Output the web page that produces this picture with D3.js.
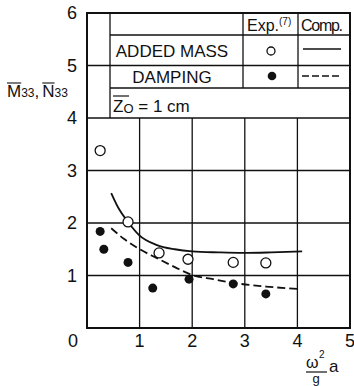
<!DOCTYPE html>
<html>
<head>
<meta charset="utf-8">
<script src="https://cdn.jsdelivr.net/npm/d3@7"></script>
<style>
  body { margin: 0; background: #fff; }
  text { font-family: "Liberation Sans", Arial, sans-serif; fill: #111; }
</style>
</head>
<body>
<svg id="chart"></svg>
<script>
// experiment (ref. 7)
var addedMassX = [0.25, 0.78, 1.37, 1.92, 2.78, 3.40];
var addedMassY = [3.38, 2.02, 1.43, 1.31, 1.25, 1.24];
var dampingX = [0.25, 0.32, 0.78, 1.25, 1.94, 2.78, 3.40];
var dampingY = [1.84, 1.50, 1.25, 0.76, 0.93, 0.84, 0.65];

// computed curves
var compMassX = [0.46, 0.60, 0.78, 0.99, 1.33, 1.67, 2.00, 2.50, 2.97, 3.50, 4.09];
var compMassY = [2.57, 2.28, 2.02, 1.77, 1.58, 1.50, 1.46, 1.44, 1.43, 1.44, 1.46];
var compDampX = [0.46, 0.70, 0.97, 1.33, 1.67, 2.00, 2.40, 2.78, 3.40, 4.07];
var compDampY = [1.90, 1.70, 1.52, 1.33, 1.16, 1.01, 0.93, 0.86, 0.79, 0.74];

var xTicks = [1, 2, 3, 4, 5];
var yTicks = [1, 2, 3, 4, 5, 6];
var legendRows = ["ADDED MASS", "DAMPING"];

var svgWidth = 354, svgHeight = 386;
var svg = d3.select("#chart")
    .attr("width", svgWidth)
    .attr("height", svgHeight);

var x = d3.scaleLinear().domain([0, 5]).range([87, 350]);
var y = d3.scaleLinear().domain([0, 6]).range([328, 13]);

var zip = function(xs, ys) {
  return xs.map(function(v, i) { return { x: v, y: ys[i] }; });
};

// grid: vertical lines stop under the legend box
var grid = svg.append("g").attr("stroke", "#111").attr("stroke-width", 1.3);
[1, 2, 3, 4].forEach(function(t) {
  grid.append("line")
      .attr("x1", x(t)).attr("x2", x(t))
      .attr("y1", y(4)).attr("y2", y(0));
});
[1, 2, 3, 4, 5].forEach(function(t) {
  grid.append("line")
      .attr("x1", x(0)).attr("x2", x(5))
      .attr("y1", y(t)).attr("y2", y(t));
});

// frame
svg.append("rect")
    .attr("x", x(0)).attr("y", y(6))
    .attr("width", x(5) - x(0)).attr("height", y(0) - y(6))
    .attr("fill", "none").attr("stroke", "#111").attr("stroke-width", 2);

// legend table
var lx0 = 110, lc1 = 243, lc2 = 298, lx1 = x(5);
var ly0 = y(6), lyh = 35, ly2 = 88, ly3 = y(4);
var leg = svg.append("g").attr("stroke", "#111").attr("stroke-width", 1.3);
leg.append("line").attr("x1", lx0).attr("x2", lx0).attr("y1", ly0).attr("y2", ly3);
leg.append("line").attr("x1", lc1).attr("x2", lc1).attr("y1", ly0).attr("y2", ly2);
leg.append("line").attr("x1", lc2).attr("x2", lc2).attr("y1", ly0).attr("y2", ly2);
leg.append("line").attr("x1", lx0).attr("x2", lx1).attr("y1", lyh).attr("y2", lyh);
leg.append("line").attr("x1", lx0).attr("x2", lx1).attr("y1", ly2).attr("y2", ly2);

var hdr = svg.append("text").attr("x", 247).attr("y", 31).attr("font-size", 16);
hdr.append("tspan").text("Exp.");
hdr.append("tspan").attr("font-size", 10).attr("dy", -6).text("(7)");
svg.append("text").attr("x", 301).attr("y", 31).attr("font-size", 16)
    .attr("textLength", 42).text("Comp.");

svg.selectAll(".rowlabel")
  .data(legendRows)
  .join("text")
    .attr("class", "rowlabel")
    .attr("x", 172)
    .attr("y", function(d, i) { return i === 0 ? 57 : 83; })
    .attr("text-anchor", "middle")
    .attr("font-size", 17)
    .text(function(d) { return d; });

svg.append("circle").attr("cx", 271).attr("cy", 51).attr("r", 4)
    .attr("fill", "#fff").attr("stroke", "#111").attr("stroke-width", 1.3);
svg.append("circle").attr("cx", 272).attr("cy", 76).attr("r", 4.3).attr("fill", "#111");
svg.append("line").attr("x1", 303).attr("x2", 341).attr("y1", 49).attr("y2", 49)
    .attr("stroke", "#111").attr("stroke-width", 1.6);
svg.append("line").attr("x1", 302).attr("x2", 341).attr("y1", 76).attr("y2", 76)
    .attr("stroke", "#111").attr("stroke-width", 1.6).attr("stroke-dasharray", "7,3");

// z0 = 1 cm
var zt = svg.append("text").attr("x", 113).attr("y", 112).attr("font-size", 17);
zt.append("tspan").text("Z");
zt.append("tspan").attr("font-size", 13).attr("dy", 1).text("O");
zt.append("tspan").attr("dy", -1).text(" = 1 cm");
svg.append("line").attr("x1", 113).attr("x2", 129).attr("y1", 96).attr("y2", 96)
    .attr("stroke", "#111").attr("stroke-width", 1.2);

// computed curves
var line = d3.line()
    .x(function(d) { return x(d.x); })
    .y(function(d) { return y(d.y); })
    .curve(d3.curveMonotoneX);

svg.append("path")
    .datum(zip(compMassX, compMassY))
    .attr("fill", "none").attr("stroke", "#111").attr("stroke-width", 1.8)
    .attr("d", line);
svg.append("path")
    .datum(zip(compDampX, compDampY))
    .attr("fill", "none").attr("stroke", "#111").attr("stroke-width", 1.8)
    .attr("stroke-dasharray", "8,4")
    .attr("d", line);

// experiment points
svg.selectAll(".open")
  .data(zip(addedMassX, addedMassY))
  .join("circle")
    .attr("class", "open")
    .attr("cx", function(d) { return x(d.x); })
    .attr("cy", function(d) { return y(d.y); })
    .attr("r", 5)
    .attr("fill", "#fff").attr("stroke", "#111").attr("stroke-width", 1.3);
svg.selectAll(".filled")
  .data(zip(dampingX, dampingY))
  .join("circle")
    .attr("class", "filled")
    .attr("cx", function(d) { return x(d.x); })
    .attr("cy", function(d) { return y(d.y); })
    .attr("r", 4.5)
    .attr("fill", "#111");

// tick labels
svg.selectAll(".ytick")
  .data(yTicks)
  .join("text")
    .attr("class", "ytick")
    .attr("x", 77)
    .attr("y", function(d) { return y(d) + 6; })
    .attr("text-anchor", "end")
    .attr("font-size", 18)
    .text(function(d) { return d; });
svg.selectAll(".xtick")
  .data(xTicks)
  .join("text")
    .attr("class", "xtick")
    .attr("x", function(d) { return x(d); })
    .attr("y", 347)
    .attr("text-anchor", "middle")
    .attr("font-size", 18)
    .text(function(d) { return d; });
svg.append("text").attr("x", 73).attr("y", 347)
    .attr("text-anchor", "middle").attr("font-size", 18).text("0");

// y axis title: M33, N33 with bars
var yt = svg.append("g");
var cx = 7;
[["M", 17], ["33", 12], [",", 17], ["N", 17], ["33", 12]].forEach(function(p) {
  var t = yt.append("text").attr("x", cx).attr("y", 97).attr("font-size", p[1]).text(p[0]);
  var w = t.node().getComputedTextLength();
  if (p[0] === "M" || p[0] === "N") {
    yt.append("line").attr("x1", cx).attr("x2", cx + w).attr("y1", 83).attr("y2", 83)
        .attr("stroke", "#111").attr("stroke-width", 1.1);
  }
  cx += w + (p[0] === "," ? 3 : 0);
});

// x axis title: (omega^2 / g) a
var xt = svg.append("g");
xt.append("text").attr("x", 306).attr("y", 367.5).attr("font-size", 16).text("ω");
xt.append("text").attr("x", 319).attr("y", 358).attr("font-size", 10).text("2");
xt.append("line").attr("x1", 306).attr("x2", 327).attr("y1", 372).attr("y2", 372)
    .attr("stroke", "#111").attr("stroke-width", 1.2);
xt.append("text").attr("x", 316).attr("y", 383).attr("text-anchor", "middle")
    .attr("font-size", 13).text("g");
xt.append("text").attr("x", 329).attr("y", 372).attr("font-size", 17).text("a");
</script>
</body>
</html>
